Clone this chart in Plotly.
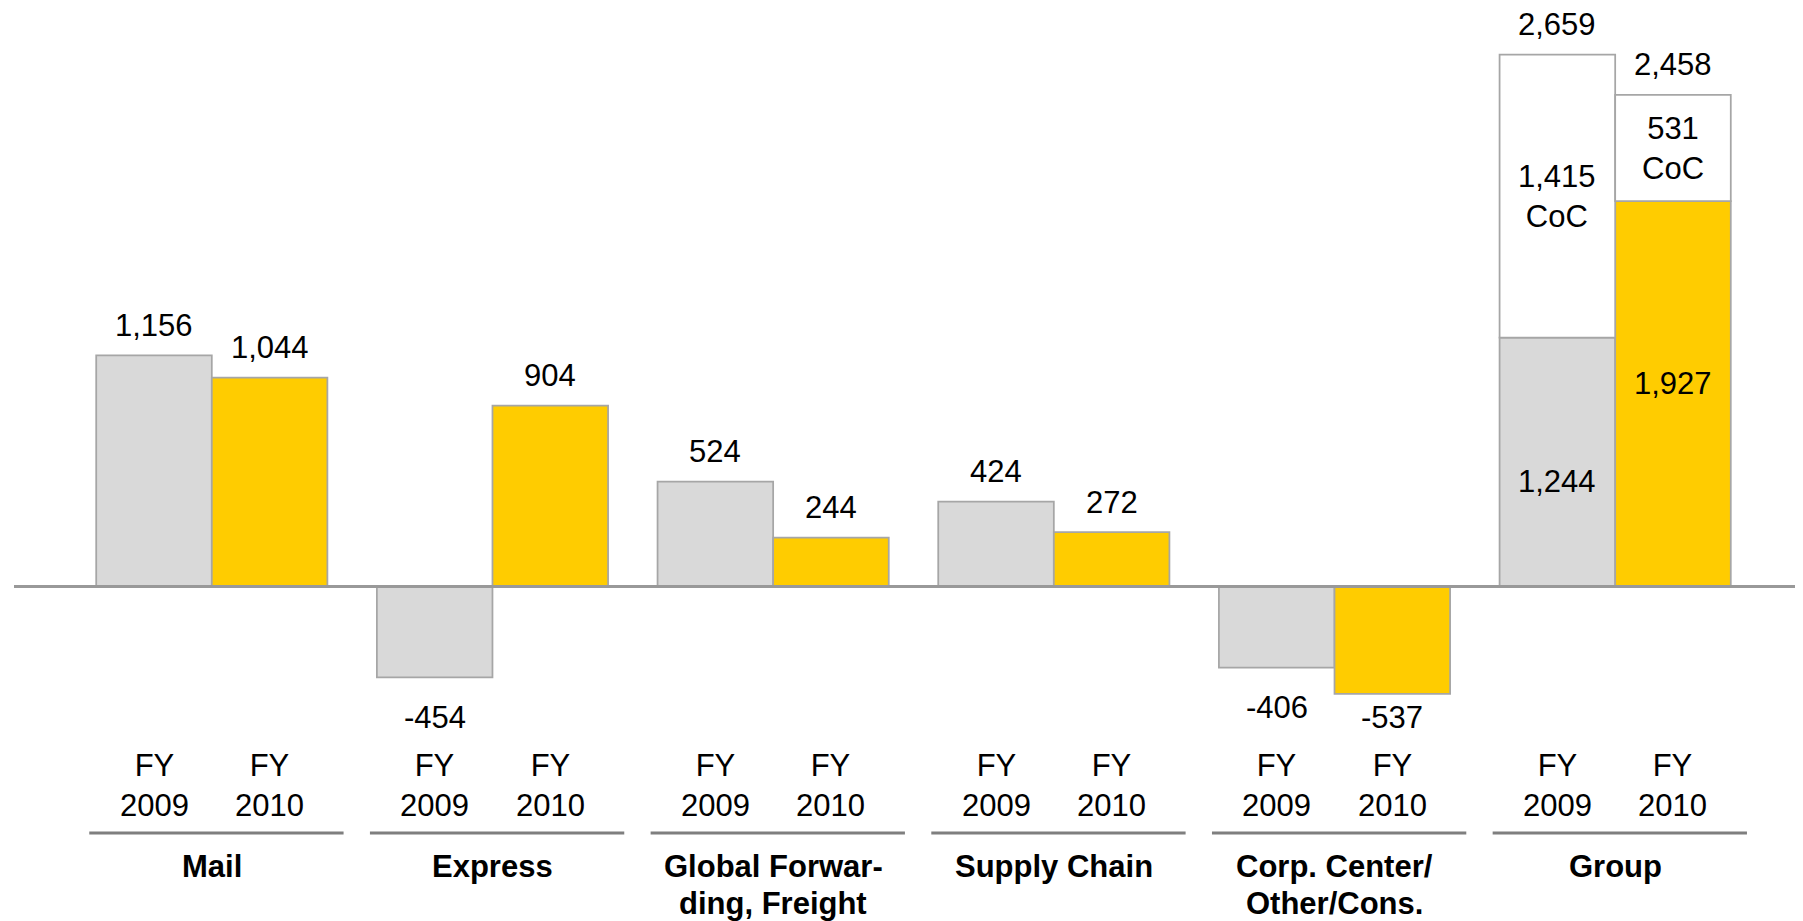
import plotly.graph_objects as go

# EBIT by division, EUR m
segments = ["Mail", "Express", "Global Forwar-<br>ding, Freight", "Supply Chain",
            "Corp. Center/<br>Other/Cons.", "Group"]
year_labels = ["FY<br>2009", "FY<br>2010"]
ebit_2009 = [1156, -454, 524, 424, -406, 1244]
ebit_2010 = [1044, 904, 244, 272, -537, 1927]
coc_2009 = 1415   # cost of change on top of group EBIT
coc_2010 = 531

GREY = "#D9D9D9"
YELLOW = "#FFCC00"
EDGE = "#A6A6A6"
FONT = "Liberation Sans, Arial, sans-serif"
FS = 31

# screen pixel <-> data helpers (0.2 px per EUR m, zero line at 586.5 px)
PX_PER_UNIT = 0.2
ZERO_PX = 586.5
SCREEN_W, SCREEN_H = 1803, 921
OFF = 8  # page body margin
W, H = SCREEN_W - OFF, SCREEN_H - OFF
X0_PX, X_UNIT_PX = 154, 115.6


def y_at(px):
    return (ZERO_PX - px) / PX_PER_UNIT


def x_at(px):
    return (px - X0_PX) / X_UNIT_PX


STEP = 2.428
n = len(segments)
x09 = [i * STEP for i in range(n)]
x10 = [i * STEP + 1 for i in range(n)]
centers = [i * STEP + 0.5 for i in range(n)]

fig = go.Figure()
bar_line = dict(color=EDGE, width=1.75)
fig.add_trace(go.Bar(x=x09, y=ebit_2009, width=1, marker=dict(color=GREY, line=bar_line)))
fig.add_trace(go.Bar(x=x10, y=ebit_2010, width=1, marker=dict(color=YELLOW, line=bar_line)))
fig.add_trace(go.Bar(x=[x09[-1]], y=[coc_2009], base=[ebit_2009[-1]], width=1,
                     marker=dict(color="white", line=bar_line)))
fig.add_trace(go.Bar(x=[x10[-1]], y=[coc_2010], base=[ebit_2010[-1]], width=1,
                     marker=dict(color="white", line=bar_line)))

ann = []


def label(x, y, text, yshift=0, bold=False):
    if bold:
        text = f"<b>{text}</b>"
    ann.append(dict(x=x, y=y, text=text, showarrow=False, yshift=yshift,
                    xanchor="center", yanchor="middle",
                    font=dict(family=FONT, size=FS, color="black")))


# value labels for divisions
for i in range(n - 1):
    for xs, vals in ((x09, ebit_2009), (x10, ebit_2010)):
        v = vals[i]
        if v >= 0:
            label(xs[i], v, f"{v:,}", yshift=30)
        else:
            label(xs[i], max(v - 200, y_at(717.6)), f"{v:,}")

# group column
label(x09[-1], ebit_2009[-1] + coc_2009, f"{ebit_2009[-1] + coc_2009:,}", yshift=30)
label(x10[-1], ebit_2010[-1] + coc_2010, f"{ebit_2010[-1] + coc_2010:,}", yshift=30)
label(x09[-1], ebit_2009[-1] + coc_2009 / 2, f"{coc_2009:,}<br>CoC")
label(x10[-1], ebit_2010[-1] + coc_2010 / 2, f"{coc_2010:,}<br>CoC")
label(x09[-1], ebit_2009[-1] / 2, f"{ebit_2009[-1]:,}", yshift=-19)
label(x10[-1], ebit_2010[-1] / 2, f"{ebit_2010[-1]:,}", yshift=10)

# category axis: years, separator lines, division names
shapes = []
for i in range(n):
    label(x09[i], y_at(785.5), year_labels[0])
    label(x10[i], y_at(785.5), year_labels[1])
    shapes.append(dict(type="line", xref="x", yref="y",
                       x0=centers[i] - 1.06, x1=centers[i] + 1.14,
                       y0=y_at(833), y1=y_at(833),
                       line=dict(color="#7F7F7F", width=3)))
    # division name, one annotation per line for tighter leading
    for k, line in enumerate(segments[i].split("<br>")):
        label(centers[i], y_at(866 + 37 * k), line, bold=True)

# zero line
shapes.append(dict(type="line", xref="paper", yref="y", x0=(14 - OFF) / W, x1=1, y0=0, y1=0,
                   line=dict(color="#999999", width=3), layer="above"))

fig.update_layout(
    width=W, height=H,
    barmode="overlay",
    showlegend=False,
    margin=dict(l=0, r=0, t=0, b=0),
    paper_bgcolor="white", plot_bgcolor="white",
    xaxis=dict(visible=False, range=[x_at(OFF), x_at(SCREEN_W)]),
    yaxis=dict(visible=False, range=[y_at(SCREEN_H), y_at(OFF)]),
    annotations=ann,
    shapes=shapes,
)

fig.write_html("out.html")
